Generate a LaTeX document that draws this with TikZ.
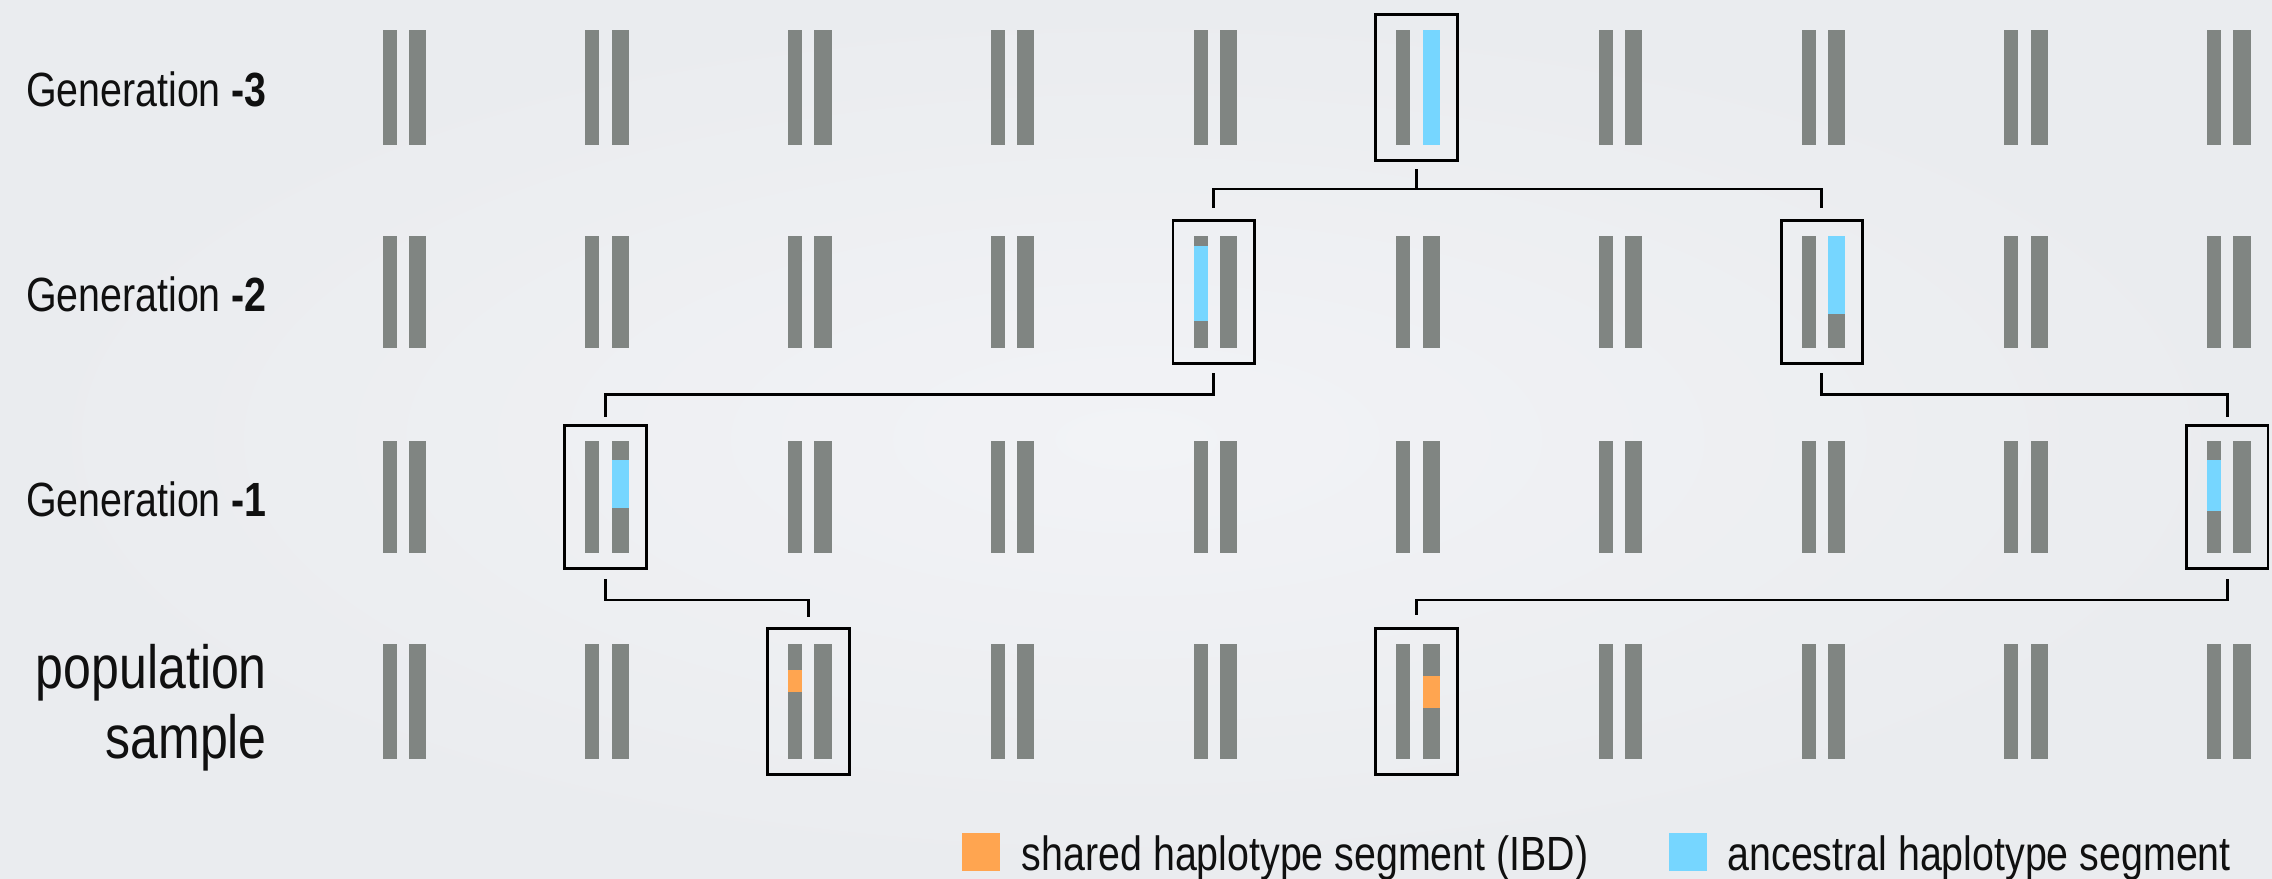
\documentclass[tikz,border=0pt]{standalone}
\usepackage{fontspec}
\setmainfont{Liberation Sans}[FakeStretch=0.82]
\usetikzlibrary{calc}

\definecolor{bgin}{HTML}{F2F3F6}
\definecolor{bgout}{HTML}{EAECEF}
\definecolor{chrom}{HTML}{808582}
\definecolor{anc}{HTML}{76D6FF}
\definecolor{ibd}{HTML}{FFA550}
\definecolor{ink}{HTML}{101010}

% left edge of the chromosome pair in column #1
\newcommand\colleft[1]{\pgfmathsetmacro\cx{382.7+202.7*#1}}
% a homologous pair of chromosomes: column, top, bottom
\newcommand\chrompair[3]{%
  \colleft{#1}%
  \fill[chrom] (\cx,#2) rectangle (\cx+14,#3);
  \fill[chrom] (\cx+26.3,#2) rectangle (\cx+43.5,#3);
}
% a coloured stretch on one chromosome: column, side (0 left / 1 right), top, bottom, colour
\newcommand\segment[5]{%
  \colleft{#1}%
  \ifnum#2=0
    \fill[#5] (\cx,#3) rectangle (\cx+14,#4);
  \else
    \fill[#5] (\cx+26.3,#3) rectangle (\cx+43.5,#4);
  \fi
}

\begin{document}
\begin{tikzpicture}[x=1pt,y=-1pt,
  indiv/.style={draw=black, line width=2.9pt, minimum width=81.5pt,
                minimum height=#1, inner sep=0pt, outer sep=0pt},
  link/.style={draw=black, line width=2.9pt},
  genlabel/.style={anchor=base east, inner sep=0pt, text=ink,
                   font=\fontsize{48}{56}\selectfont},
  poplabel/.style={anchor=base east, inner sep=0pt, text=ink,
                   font=\fontsize{61}{70}\selectfont},
  legendtext/.style={anchor=base west, inner sep=0pt, text=ink,
                     font=\fontsize{48}{56}\selectfont},
]
% background
\useasboundingbox (0,0) rectangle (2272,878);
\shade[inner color=bgin, outer color=bgout] (0,0) rectangle (2272,878);

% row labels
\node[genlabel] (lab3) at (267,106) {Generation \textbf{-3}};
\node[genlabel] (lab2) at (267,311) {Generation \textbf{-2}};
\node[genlabel] (lab1) at (267,516) {Generation \textbf{-1}};
\node[poplabel] (labp1) at (267,688) {population};
\node[poplabel] (labp2) at (267,758) {sample};

% chromosome pairs of every individual
\foreach \k in {0,...,9} {
  \chrompair{\k}{30}{145}
  \chrompair{\k}{236}{348}
  \chrompair{\k}{441}{553}
  \chrompair{\k}{644}{759}
}

% inherited haplotype stretches
\segment{5}{1}{30}{145}{anc}
\segment{4}{0}{246}{321}{anc}
\segment{7}{1}{236}{314}{anc}
\segment{1}{1}{460}{508}{anc}
\segment{9}{0}{460}{511}{anc}
\segment{2}{0}{670}{692}{ibd}
\segment{5}{1}{676}{708}{ibd}

% framed individuals along the lineage
\node[indiv=145.5pt] (g3)  at (1416.45,87.5) {};
\node[indiv=142.5pt] (g2a) at (1213.75,292) {};
\node[indiv=142.5pt] (g2b) at (1821.85,292) {};
\node[indiv=142.5pt] (g1a) at (605.65,497) {};
\node[indiv=142.5pt] (g1b) at (2227.25,497) {};
\node[indiv=145.5pt] (s1)  at (808.35,701.5) {};
\node[indiv=145.5pt] (s2)  at (1416.45,701.5) {};

% descent lines
\draw[link] ([yshift=-9pt]g3.south) -- (g3.south |- 0,189) -| ([yshift=13pt]g2a.north);
\draw[link] ([yshift=-9pt]g3.south) -- (g3.south |- 0,189) -| ([yshift=13pt]g2b.north);
\draw[link] ([yshift=-10pt]g2a.south) -- (g2a.south |- 0,394.5) -| ([yshift=9pt]g1a.north);
\draw[link] ([yshift=-10pt]g2b.south) -- (g2b.south |- 0,394.5) -| ([yshift=9pt]g1b.north);
\draw[link] ([yshift=-11pt]g1a.south) -- (g1a.south |- 0,600) -| ([yshift=12pt]s1.north);
\draw[link] ([yshift=-11pt]g1b.south) -- (g1b.south |- 0,600) -| ([yshift=14pt]s2.north);

% legend
\fill[ibd] (961.5,832.7) rectangle (999.5,870.7);
\node[legendtext] (legibd) at (1021.7,870) {shared haplotype segment (IBD)};
\fill[anc] (1668.5,832.7) rectangle (1706.5,870.7);
\node[legendtext] (leganc) at (1727.4,870) {ancestral haplotype segment};
\end{tikzpicture}
\end{document}
